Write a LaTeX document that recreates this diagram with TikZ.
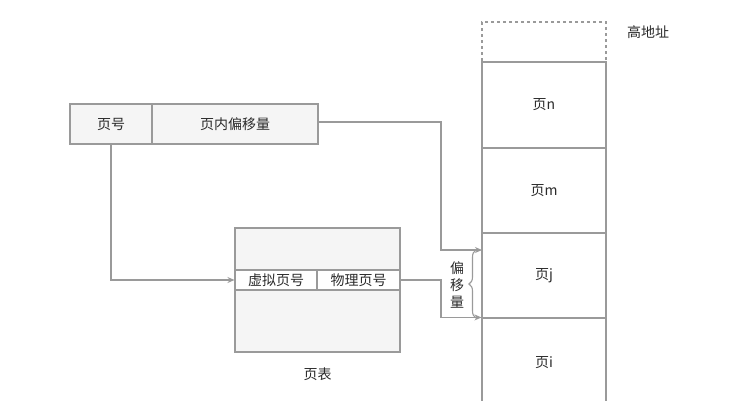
\documentclass[tikz,border=0pt]{standalone}
\usepackage{fontspec}
\setmainfont{Noto Sans CJK SC}
\usetikzlibrary{arrows.meta,decorations.pathreplacing}
\definecolor{linegray}{HTML}{9A9A9A}
\definecolor{boxfill}{HTML}{F5F5F5}
\definecolor{txt}{HTML}{2A2A2A}
\begin{document}
\begin{tikzpicture}[x=1pt,y=-1pt,
  every node/.style={text=txt,font=\fontsize{14}{17}\selectfont,inner sep=0pt},
  cell/.style={draw=linegray,line width=1.1pt,fill=boxfill},
  page/.style={draw=linegray,line width=1.1pt,fill=white,minimum width=124,minimum height=85},
  link/.style={draw=linegray,line width=1.1pt,-{Stealth[length=7pt,width=6pt]}}]
\useasboundingbox (0,0) rectangle (748,400);

\node[cell,minimum width=82,minimum height=40] (pnum) at (111,124) {页号};
\node[cell,minimum width=166,minimum height=40] (poff) at (235,124) {页内偏移量};

\node[cell,minimum width=165,minimum height=124] (table) at (317.5,290) {};
\node[cell,fill=white,minimum width=82,minimum height=20] (vpn) at (276,280) {虚拟页号};
\node[cell,fill=white,minimum width=83,minimum height=20] (ppn) at (358.5,280) {物理页号};
\node (tname) at (317.5,374) {页表};

\node[draw=linegray,dashed,line width=1.1pt,minimum width=124,minimum height=40] (ptop) at (544,42) {};
\node (high) at (648,32) {高地址};
\node[page,minimum height=86] (pn) at (544,105) {页n};
\node[page] (pm) at (544,190.5) {页m};
\node[page] (pj) at (544,275.5) {页j};
\node[page,minimum height=90] (pi) at (544,363) {页i};

\coordinate (offend) at (482,250);
\draw[link] (pnum.south) |- (vpn.west);
\draw[link] (poff.east) ++(0,-2) -- (441,122) |- (offend);
\draw[link] (ppn.east) -- (441,280) |- (pi.north west);

\draw[linegray,line width=1.1pt,decorate,decoration={brace,amplitude=7pt}] (476,318) -- (476,250);
\node[align=center] (offlab) at (457,285) {偏\\移\\量};

\end{tikzpicture}
\end{document}
